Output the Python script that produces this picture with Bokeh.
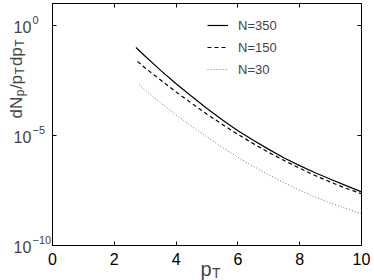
import numpy as np
from bokeh.plotting import figure
from bokeh.models import (FixedTicker, LinearAxis, LogAxis, Label, Legend, LegendItem,
                          CustomJSTickFormatter, Range1d)
from bokeh.embed import file_html
from bokeh.resources import INLINE

# ---- data ----
pt_350 = [2.7, 3.0, 3.5, 4.0, 4.5, 5.0, 5.5, 6.0, 6.5, 7.0, 7.5, 8.0, 8.5, 9.0, 9.5, 10.0]
y_350 = [1.0e-1, 3.98e-2, 9.12e-3, 2.24e-3, 6.03e-4, 1.70e-4, 5.01e-5, 1.66e-5,
         6.03e-6, 2.34e-6, 9.55e-7, 4.27e-7, 2.04e-7, 1.02e-7, 5.25e-8, 2.75e-8]
pt_150 = [2.75, 3.0, 3.5, 4.0, 4.5, 5.0, 5.5, 6.0, 6.5, 7.0, 7.5, 8.0, 8.5, 9.0, 9.5, 10.0]
y_150 = [2.34e-2, 1.17e-2, 3.31e-3, 9.55e-4, 2.95e-4, 9.33e-5, 3.16e-5, 1.12e-5,
         4.27e-6, 1.70e-6, 7.24e-7, 3.24e-7, 1.51e-7, 7.59e-8, 3.98e-8, 2.24e-8]
pt_30 = [2.8, 3.0, 3.5, 4.0, 4.5, 5.0, 5.5, 6.0, 6.5, 7.0, 7.5, 8.0, 8.5, 9.0, 9.5, 10.0]
y_30 = [2.04e-3, 1.17e-3, 3.02e-4, 8.51e-5, 2.63e-5, 8.51e-6, 2.82e-6, 1.02e-6,
        3.98e-7, 1.62e-7, 7.08e-8, 3.24e-8, 1.58e-8, 8.51e-9, 4.79e-9, 2.82e-9]
series_labels = ["N=350", "N=150", "N=30"]
x_lim = [0, 10]
y_lim = [1e-10, 10]
x_ticks = [0, 2, 4, 6, 8, 10]
y_ticks = [1.0, 1e-5, 1e-10]
y_tick_base = ["10", "10", "10"]
y_tick_exp = ["0", "\u22125", "\u221210"]

FONT = "Liberation Sans"

# ---- layout (pixels) ----
W, H = 374, 280
L, R, T, B = 52, 361, 3, 245          # where the axes box sits on the canvas
xs = (x_lim[1] - x_lim[0]) / (R - L)
x_range = Range1d(x_lim[0] - L * xs, x_lim[1] + (W - R) * xs)
ly0, ly1 = np.log10(y_lim[0]), np.log10(y_lim[1])
ys = (ly1 - ly0) / (B - T)
y_range = Range1d(10 ** (ly0 - (H - B) * ys), 10 ** (ly1 + T * ys))

p = figure(width=W, height=H, x_range=x_range, y_range=y_range,
           y_axis_type="log", output_backend="svg", toolbar_location=None,
           min_border=0, x_axis_location=None, y_axis_location=None)
p.xgrid.visible = False
p.ygrid.visible = False
p.outline_line_color = None

blank = CustomJSTickFormatter(code="return ' '")
common = dict(major_tick_in=4, major_tick_out=0, minor_tick_line_color=None,
              axis_line_color="black", major_tick_line_color="black", axis_line_width=1)

bottom = LinearAxis(ticker=FixedTicker(ticks=x_ticks), fixed_location=y_lim[0],
                    bounds=tuple(x_lim), major_label_text_font=FONT,
                    major_label_text_font_size="16px", major_label_text_color="black",
                    major_label_standoff=7, **common)
p.add_layout(bottom, "below")
top = LinearAxis(ticker=FixedTicker(ticks=x_ticks), fixed_location=y_lim[1],
                 bounds=tuple(x_lim), formatter=blank, major_label_text_font_size="2px",
                 major_label_standoff=0, **common)
p.add_layout(top, "above")
left = LogAxis(ticker=FixedTicker(ticks=y_ticks), fixed_location=x_lim[0],
               bounds=tuple(y_lim), formatter=blank, major_label_text_font_size="2px",
               major_label_standoff=0, **common)
p.add_layout(left, "left")
right = LogAxis(ticker=FixedTicker(ticks=y_ticks), fixed_location=x_lim[1],
                bounds=tuple(y_lim), formatter=blank, major_label_text_font_size="2px",
                major_label_standoff=0, **common)
p.add_layout(right, "right")

r1 = p.line(pt_350, y_350, line_color="black", line_width=1.2)
r2 = p.line(pt_150, y_150, line_color="black", line_width=1.2, line_dash="4 3")
r3 = p.line(pt_30, y_30, line_color="#777777", line_width=1.0, line_dash="1 2")

legend = Legend(items=[LegendItem(label=series_labels[0], renderers=[r1]),
                       LegendItem(label=series_labels[1], renderers=[r2]),
                       LegendItem(label=series_labels[2], renderers=[r3])],
                location=(207, 201), padding=0, margin=0,
                border_line_alpha=0, background_fill_alpha=0,
                glyph_width=21, glyph_height=20, label_height=20, spacing=2,
                label_standoff=10, label_text_font=FONT, label_text_font_size="13px")
p.add_layout(legend)

# y tick labels (10 with superscript exponent)
for t, b, e in zip(y_ticks, y_tick_base, y_tick_exp):
    p.add_layout(Label(x=13, x_units="screen", y=t, y_units="data", text=b,
                       text_font=FONT, text_font_size="16px", text_baseline="middle",
                       text_align="left", y_offset=-1.5))
    p.add_layout(Label(x=32, x_units="screen", y=t, y_units="data", text=e,
                       text_font=FONT, text_font_size="11px", text_baseline="middle",
                       text_align="left", y_offset=6))

# y-axis label: dN_p/p_T dp_T (rotated, reading upwards)
ylab = [("dN", 0.0, False), ("p", 22.2, True), ("/p", 29.4, False), ("T", 44.1, True),
        ("dp", 52.4, False), ("T", 71.8, True)]
for txt, off, sub in ylab:
    p.add_layout(Label(x=19.5 if sub else 15.5, y=(H - 118) + off,
                       x_units="screen", y_units="screen",
                       text=txt, angle=np.pi / 2, text_font=FONT,
                       text_font_size="12px" if sub else "17px",
                       text_baseline="alphabetic", text_align="left"))

# x-axis label: p_T
p.add_layout(Label(x=200, y=H - 268, x_units="screen", y_units="screen", text="p",
                   text_font=FONT, text_font_size="20px", text_baseline="alphabetic"))
p.add_layout(Label(x=211.5, y=H - 272.5, x_units="screen", y_units="screen", text="T",
                   text_font=FONT, text_font_size="14px", text_baseline="alphabetic"))

open("out.html", "w").write(file_html(p, INLINE))
